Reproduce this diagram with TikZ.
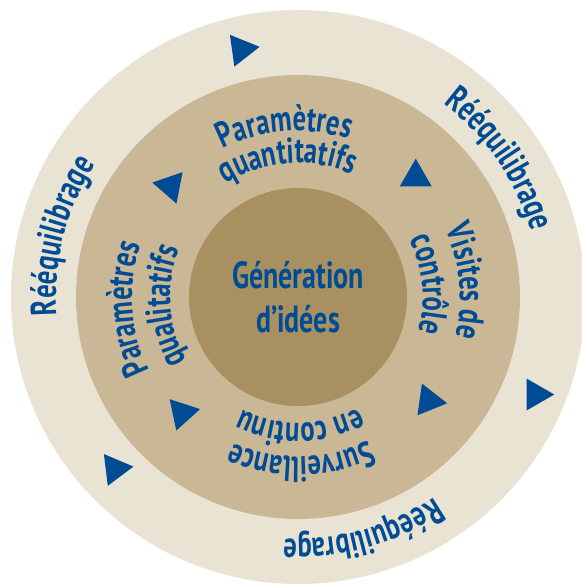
\documentclass[tikz,border=0pt]{standalone}
\usepackage{fontspec}
\setmainfont{PT Sans}[FakeStretch=0.74]
\usepackage{tikz}
\usetikzlibrary{decorations.text}
\definecolor{ablue}   {RGB}{0,76,148}
\definecolor{outring} {RGB}{233,227,212}
\definecolor{midring} {RGB}{202,183,149}
\definecolor{core}    {RGB}{168,144,96}
\newcommand\ringfont{\fontsize{20.5}{22}\selectfont\bfseries}
\newcommand\corefont{\fontsize{21.5}{23}\selectfont\bfseries}
\tikzset{
    ringtext/.style={decorate,
             decoration={text along path, text align=center, text color=ablue,
                         text={|\ringfont|#1}}
    },
    cyclearrow/.style={fill=ablue}
  }
% clockwise text line: centre angle, baseline radius, text
\newcommand\ringline[3]{%
  \path[ringtext={#3}] (#1+90:#2) arc[start angle=#1+90, end angle=#1-90, radius=#2];}
% triangle: position angle, radius, pointing direction
\newcommand\turnmark[3]{%
  \fill[cyclearrow, shift={(#1:#2)}] (#3:18.5) -- (#3+120:18.5) -- (#3-120:18.5) -- cycle;}

\begin{document}
\begin{tikzpicture}[scale=0.02]
 \useasboundingbox (-298,-289) rectangle (283,297);
 %Rings
     \fill[outring] (0,0) circle (287);
     \fill[midring] (0,0) circle (222);
     \fill[core] (0,0) circle (109);
 %Centre
     \node[font=\corefont, text=ablue, align=center, inner sep=0pt] (idees) at (0,0)
          {Génération\\[2pt]d’idées};
 %Middle ring
     \ringline{94.5}{166}{Paramètres}
     \ringline{94.5}{134}{quantitatifs}
     \ringline{5.5}{162}{Visites de}
     \ringline{5.5}{125}{contrôle}
     \ringline{-89}{160}{Surveillance}
     \ringline{-89}{126}{en continu}
     \ringline{184}{166}{Paramètres}
     \ringline{184}{128}{qualitatifs}
 %Outer ring
     \ringline{165.5}{242}{Rééquilibrage}
     \ringline{34.4}{242}{Rééquilibrage}
     \ringline{-74.6}{242}{Rééquilibrage}
 %Triangles, outer
     \turnmark{102.9}{254}{8}
     \turnmark{-22.3}{257}{0}
     \turnmark{223.2}{251}{7}
 %Triangles, middle
     \turnmark{139}{169}{169}
     \turnmark{45.5}{168}{90}
     \turnmark{-38.4}{167}{-8}
     \turnmark{225}{164}{12}
\end{tikzpicture}
\end{document}
